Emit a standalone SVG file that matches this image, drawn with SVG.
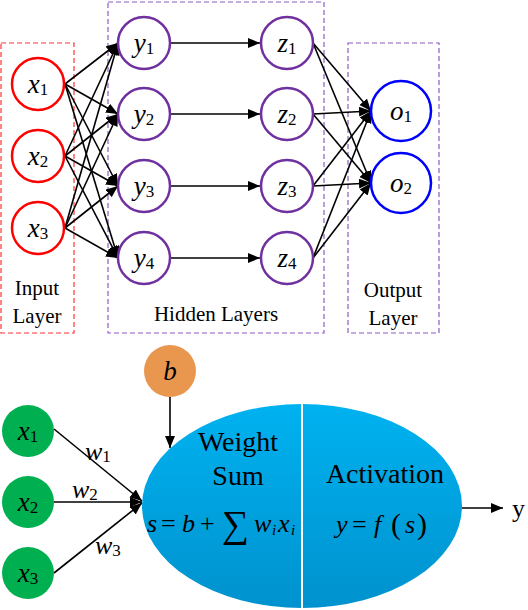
<svg xmlns="http://www.w3.org/2000/svg" width="528" height="610" viewBox="0 0 528 610">
<defs>
<marker id="ah" markerUnits="userSpaceOnUse" markerWidth="14" markerHeight="12" refX="12" refY="5" orient="auto">
<path d="M0,0 L12,5 L0,10 Z" fill="#000"/>
</marker>
<linearGradient id="eg" x1="0" y1="0" x2="0" y2="1">
<stop offset="0" stop-color="#00B2F0"/>
<stop offset="1" stop-color="#0092CE"/>
</linearGradient>
<style>
text { font-family: "Liberation Serif", "Times New Roman", serif; fill: #000; }
.lab { font-size: 21px; text-anchor: middle; }
.nl { font-size: 27px; text-anchor: middle; }
.it { font-style: italic; }
.sub { font-size: 17px; }
.box { fill: none; stroke-width: 1.2; stroke-dasharray: 5,3; }
.xn { fill: #fff; stroke: #FF0000; stroke-width: 2.5; }
.hn { fill: #fff; stroke: #7030A0; stroke-width: 2.5; }
.on { fill: #fff; stroke: #0000FF; stroke-width: 2.5; }
.gn { fill: #00B050; }
.con line { stroke: #000; stroke-width: 1.6; marker-end: url(#ah); }
.big { font-size: 28px; text-anchor: middle; }
.eq { font-size: 26px; }
</style>
</defs>

<g id="boxes">
<rect class="box" x="1" y="43" width="73" height="290" stroke="#FF3333"/>
<rect class="box" x="108" y="2" width="216" height="331" stroke="#8B5CC8"/>
<rect class="box" x="348" y="43" width="91" height="290" stroke="#8B5CC8"/>
<text class="lab" x="37" y="295">Input</text>
<text class="lab" x="37" y="323">Layer</text>
<text class="lab" x="216" y="321">Hidden Layers</text>
<text class="lab" x="393" y="297">Output</text>
<text class="lab" x="393" y="325">Layer</text>
</g>

<g id="connectors" class="con">
<line x1="65" y1="84" x2="118" y2="43"/>
<line x1="65" y1="84" x2="118" y2="114"/>
<line x1="65" y1="84" x2="118" y2="186"/>
<line x1="65" y1="84" x2="118" y2="258"/>
<line x1="65" y1="156" x2="118" y2="43"/>
<line x1="65" y1="156" x2="118" y2="114"/>
<line x1="65" y1="156" x2="118" y2="186"/>
<line x1="65" y1="156" x2="118" y2="258"/>
<line x1="65" y1="228" x2="118" y2="43"/>
<line x1="65" y1="228" x2="118" y2="114"/>
<line x1="65" y1="228" x2="118" y2="186"/>
<line x1="65" y1="228" x2="118" y2="258"/>
<line x1="171" y1="43" x2="260" y2="43"/>
<line x1="171" y1="114" x2="260" y2="114"/>
<line x1="171" y1="186" x2="260" y2="186"/>
<line x1="171" y1="258" x2="260" y2="258"/>
<line x1="313" y1="43" x2="371" y2="111"/>
<line x1="313" y1="43" x2="371" y2="183"/>
<line x1="313" y1="114" x2="371" y2="111"/>
<line x1="313" y1="114" x2="371" y2="183"/>
<line x1="313" y1="186" x2="371" y2="111"/>
<line x1="313" y1="186" x2="371" y2="183"/>
<line x1="313" y1="258" x2="371" y2="111"/>
<line x1="313" y1="258" x2="371" y2="183"/>
<line x1="54" y1="429" x2="142" y2="501"/>
<line x1="54" y1="502" x2="142" y2="502"/>
<line x1="54" y1="573" x2="142" y2="503"/>
<line x1="170" y1="397" x2="170" y2="448"/>
<line x1="462" y1="508" x2="503" y2="508"/>
</g>

<g id="x1"><circle class="xn" cx="38" cy="84" r="26"/><text class="nl" x="38" y="93"><tspan class="it">x</tspan><tspan class="sub" dy="2">1</tspan></text></g>
<g id="x2"><circle class="xn" cx="38" cy="156" r="26"/><text class="nl" x="38" y="165"><tspan class="it">x</tspan><tspan class="sub" dy="2">2</tspan></text></g>
<g id="x3"><circle class="xn" cx="38" cy="228" r="26"/><text class="nl" x="38" y="237"><tspan class="it">x</tspan><tspan class="sub" dy="2">3</tspan></text></g>

<g id="y1"><circle class="hn" cx="144" cy="43" r="26"/><text class="nl" x="144" y="52"><tspan class="it">y</tspan><tspan class="sub" dy="2">1</tspan></text></g>
<g id="y2"><circle class="hn" cx="144" cy="114" r="26"/><text class="nl" x="144" y="123"><tspan class="it">y</tspan><tspan class="sub" dy="2">2</tspan></text></g>
<g id="y3"><circle class="hn" cx="144" cy="186" r="26"/><text class="nl" x="144" y="195"><tspan class="it">y</tspan><tspan class="sub" dy="2">3</tspan></text></g>
<g id="y4"><circle class="hn" cx="144" cy="258" r="26"/><text class="nl" x="144" y="267"><tspan class="it">y</tspan><tspan class="sub" dy="2">4</tspan></text></g>

<g id="z1"><circle class="hn" cx="287" cy="43" r="26"/><text class="nl" x="287" y="52"><tspan class="it">z</tspan><tspan class="sub" dy="2">1</tspan></text></g>
<g id="z2"><circle class="hn" cx="287" cy="114" r="26"/><text class="nl" x="287" y="123"><tspan class="it">z</tspan><tspan class="sub" dy="2">2</tspan></text></g>
<g id="z3"><circle class="hn" cx="287" cy="186" r="26"/><text class="nl" x="287" y="195"><tspan class="it">z</tspan><tspan class="sub" dy="2">3</tspan></text></g>
<g id="z4"><circle class="hn" cx="287" cy="258" r="26"/><text class="nl" x="287" y="267"><tspan class="it">z</tspan><tspan class="sub" dy="2">4</tspan></text></g>

<g id="o1"><circle class="on" cx="401" cy="111" r="30"/><text class="nl" x="401" y="120"><tspan class="it">o</tspan><tspan class="sub" dy="2">1</tspan></text></g>
<g id="o2"><circle class="on" cx="401" cy="183" r="30"/><text class="nl" x="401" y="192"><tspan class="it">o</tspan><tspan class="sub" dy="2">2</tspan></text></g>

<g id="b"><circle cx="170" cy="371" r="26" fill="#E9964F"/><text class="nl" x="170" y="380"><tspan class="it">b</tspan></text></g>

<g id="gx1"><circle class="gn" cx="28" cy="431" r="26"/><text class="nl" x="28" y="440"><tspan class="it">x</tspan><tspan class="sub" dy="2">1</tspan></text></g>
<g id="gx2"><circle class="gn" cx="28" cy="502" r="26"/><text class="nl" x="28" y="511"><tspan class="it">x</tspan><tspan class="sub" dy="2">2</tspan></text></g>
<g id="gx3"><circle class="gn" cx="28" cy="573" r="26"/><text class="nl" x="28" y="582"><tspan class="it">x</tspan><tspan class="sub" dy="2">3</tspan></text></g>

<g id="weights">
<text class="eq" x="85" y="460"><tspan class="it">w</tspan><tspan class="sub" dy="2">1</tspan></text>
<text class="eq" x="72" y="498"><tspan class="it">w</tspan><tspan class="sub" dy="2">2</tspan></text>
<text class="eq" x="95" y="554"><tspan class="it">w</tspan><tspan class="sub" dy="2">3</tspan></text>
</g>

<g id="neuron">
<ellipse cx="302" cy="506" rx="160" ry="102" fill="url(#eg)"/>
<line x1="302" y1="404" x2="302" y2="608" stroke="#fff" stroke-width="2"/>
<text class="big" x="238" y="451">Weight</text>
<text class="big" x="238" y="485">Sum</text>
<text class="eq"><tspan class="it" x="147" y="532">s</tspan><tspan x="161" y="532">=</tspan><tspan class="it" x="182" y="532">b</tspan><tspan x="200" y="532">+</tspan><tspan x="222" y="537" font-size="38">∑</tspan><tspan class="it" x="254" y="532">w</tspan><tspan class="it" x="272" y="535" font-size="15">i</tspan><tspan class="it" x="278" y="532">x</tspan><tspan class="it" x="291" y="535" font-size="15">i</tspan></text>
<text class="big" x="385" y="483">Activation</text>
<text class="eq"><tspan class="it" x="336" y="533">y</tspan><tspan x="352" y="533">=</tspan><tspan class="it" x="374" y="533">f</tspan><tspan x="391" y="534" font-size="30">(</tspan><tspan class="it" x="405" y="533">s</tspan><tspan x="417" y="534" font-size="30">)</tspan></text>
</g>

<g id="yout"><text x="512" y="517" font-size="26">y</text></g>
</svg>
